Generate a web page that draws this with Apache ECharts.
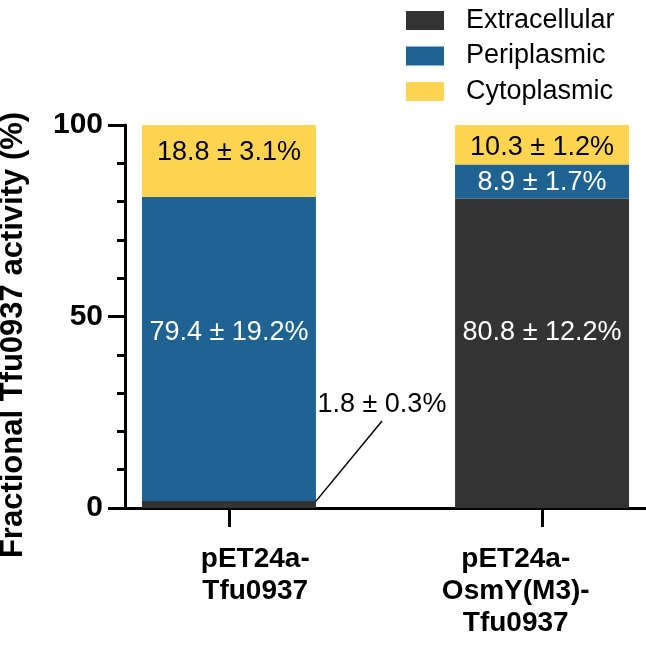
<!DOCTYPE html>
<html><head><meta charset="utf-8">
<script src="https://cdn.jsdelivr.net/npm/echarts@6/dist/echarts.min.js"></script>
<style>html,body{margin:0;padding:0;background:#fff}#c{width:646px;height:647px}</style>
</head><body><div id="c"></div>
<script>
// ---- data ----
const categories = ['pET24a-\nTfu0937', 'pET24a-\nOsmY(M3)-\nTfu0937'];
const categoryPositions = [1, 2];
const seriesNames = ['Extracellular', 'Periplasmic', 'Cytoplasmic'];
const extracellular = [1.8, 80.8];
const extracellularErr = [0.3, 12.2];
const periplasmic = [79.4, 8.9];
const periplasmicErr = [19.2, 1.7];
const cytoplasmic = [18.8, 10.3];
const cytoplasmicErr = [3.1, 1.2];
const yTickValues = [0, 50, 100];
const calloutLine = [[1.278, 1.8], [1.489, 22.7]];

// ---- styles / layout ----
const FONT = 'Liberation Sans, Arial, Helvetica, sans-serif';
const X_MIN = 0.668, X_MAX = 2.332;
const labelAnchors = categories.map((_, i) => X_MIN + (X_MAX - X_MIN) * (i + 0.5) / categories.length);
const colors = ['#333333', '#1E6392', '#FED450'];
const labelOffsets = [
  [[153, -83], [0, -21]],
  [[0, -17], [0, 1]],
  [[0, -8], [0, 3]]
];
const labelPositions = [['top', 'inside'], ['inside', 'inside'], ['inside', 'inside']];
const labelItemColors = [['#000000', '#ffffff'], ['#ffffff', '#ffffff'], ['#000000', '#000000']];

const values = [extracellular, periplasmic, cytoplasmic];
const errors = [extracellularErr, periplasmicErr, cytoplasmicErr];

const series = seriesNames.map((name, si) => {
  const s = {
    name, type: 'bar', stack: 'total', barWidth: 174,
    encode: { x: 1, y: 0 },
    itemStyle: { color: colors[si] },
    emphasis: { disabled: true },
    label: {
      show: true, fontFamily: FONT, fontSize: 27,
      formatter: p => p.value[0] + ' \u00b1 ' + errors[si][p.dataIndex] + '%'
    },
    data: values[si].map((v, i) => ({
      value: [v, categoryPositions[i]],
      label: { position: labelPositions[si][i], offset: labelOffsets[si][i], color: labelItemColors[si][i], distance: 0 }
    }))
  };
  if (si === 0) {
    s.markLine = {
      silent: true, symbol: 'none', animation: false,
      label: { show: false },
      lineStyle: { color: '#000', width: 1.5, type: 'solid' },
      data: [[{ coord: calloutLine[0] }, { coord: calloutLine[1] }]]
    };
  }
  return s;
});

const chart = echarts.init(document.getElementById('c'));
chart.setOption({
  animation: false,
  backgroundColor: '#fff',
  textStyle: { fontFamily: FONT },
  legend: {
    orient: 'vertical', left: 406, top: 7, padding: 0,
    itemWidth: 38, itemHeight: 19, itemGap: 8.5, icon: 'rect',
    data: seriesNames,
    textStyle: { fontFamily: FONT, fontSize: 27, color: '#000', padding: [0, 0, 0, 17] }
  },
  grid: { left: 125, right: 0, top: 125, bottom: 139, containLabel: false, outerBoundsMode: 'none' },
  xAxis: {
    type: 'value', min: X_MIN, max: X_MAX,
    splitLine: { show: false },
    axisLine: { show: true, lineStyle: { color: '#000', width: 3 } },
    axisTick: { show: true, customValues: categoryPositions, length: 19, lineStyle: { color: '#000', width: 3 } },
    axisLabel: {
      customValues: labelAnchors,
      formatter: v => {
        let best = 0;
        labelAnchors.forEach((a, i) => { if (Math.abs(a - v) < Math.abs(labelAnchors[best] - v)) best = i; });
        return categories[best];
      },
      fontFamily: FONT, fontSize: 28, fontWeight: 'bold', color: '#000', lineHeight: 32, margin: 35
    }
  },
  yAxis: {
    type: 'value', min: 0, max: 100, interval: 50,
    name: 'Fractional Tfu0937 activity (%)', nameLocation: 'middle', nameRotate: 90, nameGap: 96,
    nameTextStyle: { fontFamily: FONT, fontSize: 31, fontWeight: 'bold', color: '#000', padding: [0, 37, 0, 0] },
    splitLine: { show: false },
    axisLine: { show: true, lineStyle: { color: '#000', width: 3 } },
    axisTick: { show: true, length: 17, lineStyle: { color: '#000', width: 3 } },
    minorTick: { show: true, splitNumber: 5, length: 8, lineStyle: { color: '#000', width: 3 } },
    axisLabel: {
      customValues: yTickValues,
      fontFamily: FONT, fontSize: 30, fontWeight: 'bold', color: '#000', margin: 22
    }
  },
  series
});
</script></body></html>
